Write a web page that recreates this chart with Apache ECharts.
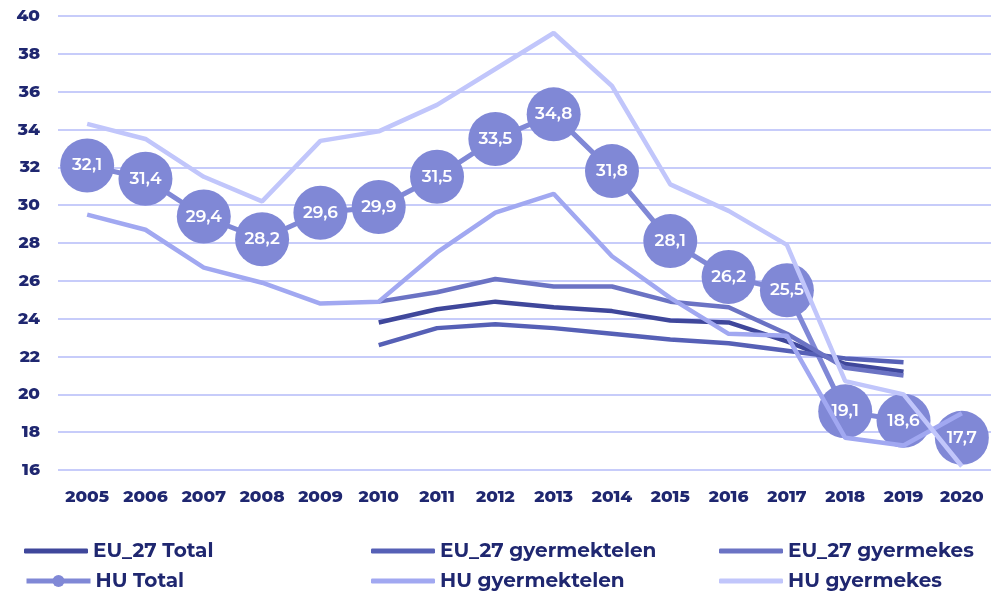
<!DOCTYPE html>
<html>
<head>
<meta charset="utf-8">
<script src="https://cdn.jsdelivr.net/npm/echarts@6/dist/echarts.min.js"></script>
<style>
  html, body { margin: 0; padding: 0; background: #fff; }
  #app { width: 991px; height: 595px; }
</style>
</head>
<body>
<div id="app"></div>
<script>
    var years = ['2005', '2006', '2007', '2008', '2009', '2010', '2011', '2012',
        '2013', '2014', '2015', '2016', '2017', '2018', '2019', '2020'];
    var yTicks = [16, 18, 20, 22, 24, 26, 28, 30, 32, 34, 36, 38, 40];

    var euTotal = [null, null, null, null, null, 23.8, 24.5, 24.9, 24.6, 24.4, 23.9, 23.8, 22.8, 21.6, 21.2, null];
    var euChildless = [null, null, null, null, null, 22.6, 23.5, 23.7, 23.5, 23.2, 22.9, 22.7, 22.3, 21.9, 21.7, null];
    var euWithKids = [null, null, null, null, null, 24.9, 25.4, 26.1, 25.7, 25.7, 24.9, 24.6, 23.2, 21.4, 21.0, null];
    var huTotal = [32.1, 31.4, 29.4, 28.2, 29.6, 29.9, 31.5, 33.5, 34.8, 31.8, 28.1, 26.2, 25.5, 19.1, 18.6, 17.7];
    var huChildless = [29.5, 28.7, 26.7, 25.9, 24.8, 24.9, 27.5, 29.6, 30.6, 27.3, 25.1, 23.2, 23.1, 17.7, 17.3, 19.0];
    var huWithKids = [34.3, 33.5, 31.5, 30.2, 33.4, 33.9, 35.3, 37.2, 39.1, 36.3, 31.1, 29.7, 27.9, 20.7, 20.0, 16.2];

    var names = ['EU_27 Total', 'EU_27 gyermektelen', 'EU_27 gyermekes', 'HU Total', 'HU gyermektelen', 'HU gyermekes'];
    var colors = ['#3f479b', '#5660b6', '#6b73c4', '#8088d6', '#a1a8f1', '#c1c6fb'];

    var font = 'Montserrat, Inter, "Noto Sans", sans-serif';
    var navy = '#1f2770';

    function plainLine(idx, data) {
        return {
            name: names[idx],
            type: 'line',
            data: data,
            symbol: 'none',
            z: 3,
            lineStyle: { color: colors[idx], width: 4.5 },
            itemStyle: { color: colors[idx] }
        };
    }

    // one legend per item so the 3x2 layout is fixed
    var legendPos = [[19, 536], [366, 536], [714, 536], [19, 566], [366, 566], [714, 566]];
    var legends = names.map(function (n, i) {
        var isTotalHu = i === 3;
        return {
            left: legendPos[i][0],
            top: legendPos[i][1],
            itemWidth: 64,
            itemHeight: isTotalHu ? 15 : 5,
            lineStyle: { width: 5 },
            data: [isTotalHu ? { name: n } : { name: n, icon: 'roundRect' }],
            textStyle: { color: navy, fontSize: 20, fontWeight: 700, fontFamily: font }
        };
    });

    var myChart = echarts.init(document.getElementById('app'));
    myChart.setOption({
        animation: false,
        color: colors,
        grid: { left: 58, top: 16, width: 941, height: 454 },
        legend: legends,
        xAxis: {
            type: 'category',
            data: years,
            boundaryGap: true,
            axisLine: { show: false },
            axisTick: { show: false },
            axisLabel: { color: navy, fontSize: 17, fontWeight: 800, fontFamily: font, margin: 18 }
        },
        yAxis: {
            type: 'value',
            min: yTicks[0],
            max: yTicks[yTicks.length - 1],
            interval: 2,
            axisLine: { show: false },
            axisTick: { show: false },
            axisLabel: { color: navy, fontSize: 17, fontWeight: 800, fontFamily: font, margin: 18 },
            splitLine: { lineStyle: { color: '#c7ccfa', width: 2 } }
        },
        series: [
            plainLine(0, euTotal),
            plainLine(1, euChildless),
            plainLine(2, euWithKids),
            {
                name: names[3],
                type: 'line',
                data: huTotal,
                symbol: 'circle',
                symbolSize: 54,
                z: 2,
                lineStyle: { color: colors[3], width: 5 },
                itemStyle: { color: colors[3] },
                label: {
                    show: true,
                    position: 'inside',
                    color: '#fff',
                    fontSize: 17,
                    fontWeight: 600,
                    fontFamily: font,
                    formatter: function (p) { return String(p.value).replace('.', ','); }
                }
            },
            plainLine(4, huChildless),
            plainLine(5, huWithKids)
        ]
    });
</script>
</body>
</html>
